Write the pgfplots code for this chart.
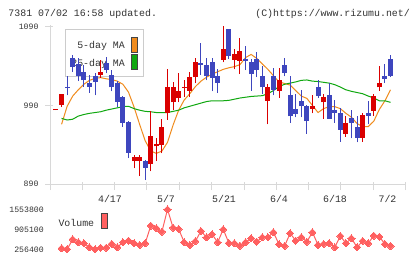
\documentclass[border=0pt]{standalone}
\usepackage{pgfplots}
\pgfplotsset{compat=1.18}
\usepackage{pgfplotstable}
\usepackage{fontspec}
\setmainfont{Liberation Mono}

\definecolor{upred}{RGB}{218,0,0}
\definecolor{downblue}{RGB}{62,70,190}
\definecolor{maorange}{RGB}{240,140,30}
\definecolor{magreen}{RGB}{16,168,16}
\definecolor{volred}{RGB}{255,96,96}
\definecolor{axgray}{RGB}{216,216,216}
\definecolor{txt}{RGB}{51,51,51}
\definecolor{leggray}{RGB}{204,204,204}
\definecolor{swatchedge}{RGB}{68,68,68}

\newcommand\ticksz{\fontsize{8.2}{9}\selectfont}
\newcommand\labsz{\fontsize{9.9}{11}\selectfont}

% daily candles: index, open, high, low, close
\pgfplotstableread{
i o h l c
0 984 985 984 985
1 991 1005 988 1004
8 1029 1048 1025 1033
14 919 927 910 924
15 919 927 900 924
17 915 983 906 951
18 938 948 919 941
19 940 973 929 962
20 981 1036 972 1014
21 994 1020 984 1014
22 999 1032 994 1008
23 1012 1022 1001 1013
24 1009 1033 1001 1026
25 1026 1050 1018 1045
30 1048 1091 1045 1062
32 1048 1062 1036 1056
33 1047 1076 1030 1059
38 996 1017 966 1013
40 1009 1038 1000 1022
46 986 1003 980 989
48 994 1005 973 1001
52 954 976 950 968
55 949 980 944 978
57 983 1005 977 1002
58 1013 1040 1009 1018
}\upcandles

\pgfplotstableread{
i o h l c
2 1014 1027 1003 1012
3 1050 1054 1033 1039
4 1043 1050 1021 1027
5 1033 1042 1014 1022
6 1019 1029 1006 1014
7 1027 1031 1003 1020
9 1044 1052 1031 1035
10 1029 1035 1008 1013
11 1019 1021 988 995
12 1001 1002 963 968
13 969 970 923 930
16 919 920 895 911
26 1044 1069 1029 1042
27 1042 1051 1022 1028
28 1045 1051 1008 1025
29 1028 1036 1006 1019
31 1087 1088 1049 1053
34 1049 1066 1035 1047
35 1045 1049 1009 1030
36 1049 1058 1026 1035
37 1028 1040 1005 1013
39 1028 1038 1003 1010
41 1042 1051 1027 1032
42 1003 1028 968 976
43 986 1005 975 979
44 996 1010 975 989
45 989 991 954 970
47 1014 1022 1000 1002
49 1003 1018 973 973
50 984 997 968 981
51 981 987 944 959
53 974 984 948 968
54 962 977 943 949
56 981 996 966 977
59 1028 1043 1019 1024
60 1049 1054 1026 1028
}\downcandles

% moving averages: index, 5-day, 25-day
\pgfplotstableread{
i ma5 ma25
1 966 973.5
2 989 971.5
3 1002 972.5
4 1010 976.5
5 1017 978.5
6 1022 980
7 1024.5 981
8 1025.5 982
9 1024 984
10 1023 985.5
11 1021 987
12 1017 988.5
13 1007 989
14 988 986
15 966 984
16 945 982.5
17 932 982
18 929 981
19 932 981
20 943 981
21 965 982.5
22 984 984
23 997 987
24 1005 989
25 1014 991
26 1021 993
27 1026 995
28 1030 996
29 1033 996
30 1036 996
31 1038 996.5
32 1039.5 998
33 1042 999.5
34 1051 1000.5
35 1055 1001.5
36 1050 1002
37 1043 1002.5
38 1036 1005
39 1028 1009
40 1020 1014
41 1018 1017
42 1016 1018.5
43 1009 1020
44 1002 1022
45 999 1022.5
46 990 1021
47 981 1020.5
48 986 1019.5
49 988.5 1018.5
50 988.5 1016.5
51 986 1013.5
52 980 1010
53 975 1008
54 967 1006.5
55 963 1005
56 963 1002
57 970 999.5
58 985 996
59 996 996
60 1010 994
}\mavg

% daily volume
\pgfplotstableread{
i v
1 288800
2 256400
3 580750
4 483450
5 451000
6 321300
7 256400
8 308300
9 308300
10 428300
11 321300
12 483450
13 535300
14 451000
15 395900
16 451000
17 1021900
18 937500
19 827300
20 1553800
21 957000
22 914800
23 483450
24 395900
25 515900
26 850000
27 645600
28 742900
29 483450
30 905100
31 460700
32 451000
33 373200
34 483450
35 613200
36 502900
37 645600
38 645600
39 807800
40 418600
41 363400
42 775400
43 535300
44 645600
45 502900
46 807800
47 395900
48 428300
49 451000
50 321300
51 687800
52 451000
53 613200
54 321300
55 525600
56 451000
57 697500
58 665100
59 428300
60 363400
}\volume

% a candle part: vertical error bar of given width and colour
\pgfplotsset{
  candle/.style 2 args={draw=none, mark=none, forget plot,
    error bars/.cd, y dir=plus, y explicit, error mark=none,
    error bar style={line width=#1, draw=#2}},
}

\begin{document}
\begin{tikzpicture}[font=\labsz]
\fill[white] (0,0) rectangle (420pt,-259pt);
\useasboundingbox (0,0) rectangle (420pt,-259pt);

% header
\node[anchor=base west, inner sep=0pt, text=txt] at (8.3pt,-16.7pt) {7381 07/02 16:58 updated.};
\node[anchor=base east, inner sep=0pt, text=txt] at (410pt,-16.7pt) {(C)https://www.rizumu.net/};

% moving-average legend (candles are drawn over it)
\draw[leggray, fill=white, line width=1pt] (65pt,-30pt) rectangle (143.3pt,-76.7pt);
\node[anchor=base east, inner sep=0pt, text=txt] at (125pt,-49pt) {5-day MA};
\node[anchor=base east, inner sep=0pt, text=txt] at (125pt,-66.5pt) {25-day MA};
\draw[swatchedge, fill=maorange, line width=0.8pt] (131pt,-37.3pt) rectangle (137.6pt,-52.7pt);
\draw[swatchedge, fill=magreen, line width=0.8pt] (131pt,-54.3pt) rectangle (137.6pt,-69.3pt);

\begin{axis}[
  at={(50.7pt,-184pt)}, anchor=south west,
  scale only axis, width=354.3pt, height=159pt,
  xmin=-0.95, xmax=62.6, ymin=890, ymax=1092.5,
  axis x line*=bottom, axis y line*=left,
  axis line style={draw=axgray, line width=1pt, -},
  xtick={-0.95,4.71,10.58,16.27,22.12,27.93,33.78,39.57,45.31,51.05,56.86,62.6},
  xticklabels={},
  ytick={890,990,1090}, yticklabels={890,990,1090},
  major tick length=8pt, tick align=center,
  tick style={draw=axgray, line width=1pt},
  x tick style={yshift=-2pt}, y tick style={xshift=-1.5pt},
  yticklabel style={font=\ticksz, text=txt, anchor=east, inner sep=0pt, xshift=-8pt},
  clip=false,
]
% moving averages under the candles
\addplot[maorange, line width=1pt, forget plot] table[x=i, y=ma5] {\mavg};
\addplot[magreen, line width=1pt, forget plot] table[x=i, y=ma25] {\mavg};
% wicks
\addplot[candle={1pt}{upred}]
  table[x=i, y=l, y error plus expr={\thisrow{h}-\thisrow{l}}] {\upcandles};
\addplot[candle={1pt}{downblue}]
  table[x=i, y=l, y error plus expr={\thisrow{h}-\thisrow{l}}] {\downcandles};
% bodies
\addplot[candle={5pt}{upred}]
  table[x=i, y=o, y error plus expr={max(\thisrow{c}-\thisrow{o},1.5)}] {\upcandles};
\addplot[candle={5pt}{downblue}]
  table[x=i, y=c, y error plus expr={max(\thisrow{o}-\thisrow{c},1.5)}] {\downcandles};
\end{axis}

% date labels
\foreach \xx/\dd in {110/4\slash 17,166/5\slash 7,224/5\slash 21,279/6\slash 4,335/6\slash 18,387.5/7\slash 2}
  \node[anchor=base, inner sep=0pt, text=txt] at (\xx pt,-202pt) {\dd};

\begin{axis}[
  at={(50.7pt,-249.3pt)}, anchor=south west,
  scale only axis, width=354.3pt, height=40pt,
  xmin=-0.95, xmax=62.6, ymin=256400, ymax=1553800,
  axis line style={draw=none}, xtick=\empty,
  scaled y ticks=false,
  ytick={256400,905100,1553800}, yticklabels={256400,905100,1553800},
  major tick length=0pt,
  yticklabel style={font=\ticksz, text=txt, anchor=east, inner sep=0pt, xshift=-6.7pt},
  clip=false,
]
\addplot[volred, line width=1pt, mark=square*, mark size=2.5pt,
  mark options={rotate=45, fill=volred, draw=volred, line width=0pt}] table[x=i, y=v] {\volume};
\end{axis}

% volume legend
\node[anchor=base west, inner sep=0pt, text=txt] at (58.3pt,-226.7pt) {Volume};
\draw[swatchedge, fill=volred, line width=0.8pt] (101pt,-213.3pt) rectangle (107.3pt,-228.3pt);
\end{tikzpicture}
\end{document}
